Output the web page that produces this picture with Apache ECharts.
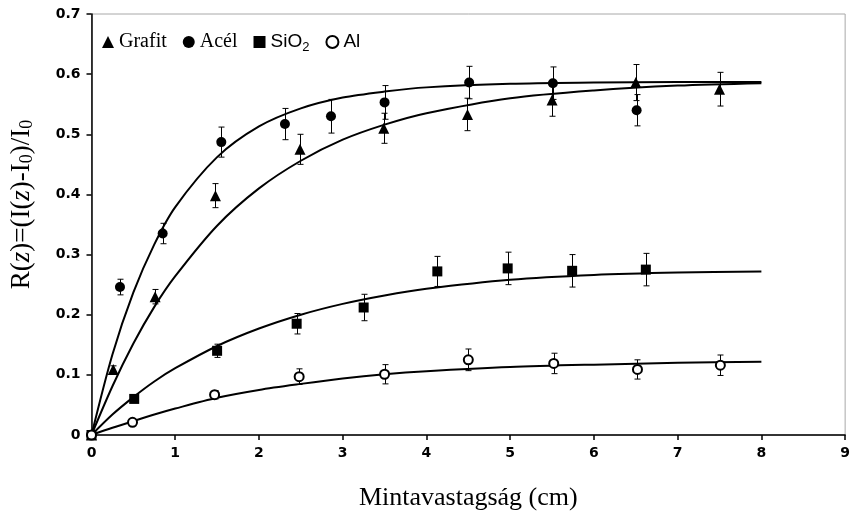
<!DOCTYPE html>
<html lang="hu">
<head>
<meta charset="UTF-8">
<title>R(z) – Mintavastagság</title>
<script src="https://cdn.jsdelivr.net/npm/echarts@6/dist/echarts.min.js"></script>
<style>
    html, body { margin: 0; width: 100%; height: 100%; overflow: hidden; background: #fff; }
    #main { width: 853px; height: 516px; }
</style>
</head>
<body>
<div id="main"></div>
<script>
    // measured points (x in cm) with error bar half-widths
    var grafitX = [0, 0.26, 0.76, 1.48, 2.49, 3.49, 4.49, 5.5, 6.5, 7.5];
    var grafitY = [0, 0.109, 0.23, 0.398, 0.475, 0.51, 0.533, 0.557, 0.586, 0.575];
    var grafitErr = [0, 0.006, 0.012, 0.02, 0.025, 0.025, 0.027, 0.027, 0.03, 0.028];

    var acelX = [0, 0.34, 0.85, 1.55, 2.31, 2.86, 3.5, 4.51, 5.51, 6.51];
    var acelY = [0, 0.246, 0.335, 0.487, 0.517, 0.53, 0.553, 0.586, 0.585, 0.54];
    var acelErr = [0, 0.013, 0.017, 0.025, 0.026, 0.028, 0.028, 0.027, 0.027, 0.026];

    var sio2X = [0, 0.51, 1.5, 2.45, 3.25, 4.13, 4.97, 5.74, 6.62];
    var sio2Y = [0, 0.06, 0.14, 0.185, 0.212, 0.272, 0.277, 0.273, 0.275];
    var sio2Err = [0, 0.004, 0.011, 0.017, 0.022, 0.025, 0.027, 0.027, 0.027];

    var alX = [0, 0.49, 1.47, 2.48, 3.5, 4.5, 5.52, 6.52, 7.51];
    var alY = [0, 0.021, 0.067, 0.097, 0.101, 0.125, 0.119, 0.109, 0.116];
    var alErr = [0, 0.003, 0.007, 0.013, 0.016, 0.018, 0.017, 0.016, 0.017];

    // fitted curves
    var fitX = [0, 0.25, 0.5, 0.75, 1, 1.5, 2, 2.5, 3, 3.5, 4, 5, 6, 7, 8];
    var grafitFit = [0, 0.081, 0.152, 0.213, 0.264, 0.348, 0.410, 0.456, 0.491, 0.516, 0.535, 0.560, 0.573, 0.581, 0.585];
    var acelFit = [0, 0.134, 0.237, 0.317, 0.379, 0.462, 0.513, 0.543, 0.561, 0.571, 0.578, 0.584, 0.586, 0.587, 0.587];
    var sio2Fit = [0, 0.034, 0.063, 0.089, 0.111, 0.148, 0.177, 0.200, 0.218, 0.232, 0.243, 0.258, 0.266, 0.270, 0.272];
    var alFit = [0, 0.012, 0.023, 0.034, 0.044, 0.062, 0.075, 0.085, 0.094, 0.101, 0.106, 0.113, 0.117, 0.120, 0.122];

    function pairs(xs, ys) {
        return xs.map(function (x, i) { return [x, ys[i]]; });
    }

    function fitLine(name, ys) {
        return {
            name: name, type: 'line', z: 2, silent: true,
            smooth: 0.3, showSymbol: false, symbol: 'none',
            lineStyle: { color: '#000', width: 2 },
            data: pairs(fitX, ys)
        };
    }

    function errorBars(name, xs, ys, errs) {
        var data = [];
        for (var i = 0; i < xs.length; i++) {
            if (errs[i] > 0) data.push([xs[i], ys[i] - errs[i], ys[i] + errs[i]]);
        }
        return {
            name: name, type: 'custom', z: 3, silent: true,
            encode: { x: 0, y: [1, 2] },
            data: data,
            renderItem: function (params, api) {
                var lo = api.coord([api.value(0), api.value(1)]);
                var hi = api.coord([api.value(0), api.value(2)]);
                var x = Math.round(lo[0]) + 0.5;
                var w = 3;
                var st = { stroke: '#000', lineWidth: 1, opacity: 1 };
                return {
                    type: 'group', children: [
                        { type: 'line', shape: { x1: x, y1: lo[1], x2: x, y2: hi[1] }, style: st },
                        { type: 'line', shape: { x1: x - w, y1: lo[1], x2: x + w, y2: lo[1] }, style: st },
                        { type: 'line', shape: { x1: x - w, y1: hi[1], x2: x + w, y2: hi[1] }, style: st }
                    ]
                };
            }
        };
    }

    function points(name, xs, ys, symbol, size) {
        var empty = symbol === 'emptyCircle';
        return {
            name: name, type: 'scatter', z: 4,
            symbol: symbol, symbolSize: size,
            itemStyle: { color: '#000', opacity: 1, borderWidth: empty ? 1 : 0 },
            data: pairs(xs, ys)
        };
    }

    var myChart = echarts.init(document.getElementById('main'));
    var option = {
        animation: false,
        backgroundColor: '#fff',
        grid: { left: 83, right: 4, top: 14, bottom: 73, show: true, borderColor: '#a8a8a8', borderWidth: 1 },
        legend: {
            data: ['Grafit', 'Acél', 'SiO2', 'Al'],
            left: 97, top: 27,
            itemWidth: 12, itemHeight: 12, itemGap: 16,
            selectedMode: false,
            formatter: function (name) {
                if (name === 'SiO2') return '{s|SiO}{sub|2}';
                if (name === 'Al') return '{s|Al}';
                return '{t|' + name + '}';
            },
            textStyle: {
                color: '#000',
                rich: {
                    t: { fontFamily: 'Liberation Serif', fontSize: 20, color: '#000', lineHeight: 24 },
                    s: { fontFamily: 'Liberation Sans', fontSize: 19, color: '#000', lineHeight: 24 },
                    sub: { fontFamily: 'Liberation Sans', fontSize: 13, color: '#000', lineHeight: 13, verticalAlign: 'bottom' }
                }
            }
        },
        xAxis: {
            type: 'value', min: 0, max: 9, interval: 1,
            name: 'Mintavastagság (cm)', nameLocation: 'middle', nameGap: 50,
            nameTextStyle: { fontFamily: 'Liberation Serif', fontSize: 26, color: '#000' },
            axisLine: { lineStyle: { color: '#000', width: 1.5 } },
            axisTick: { show: true, length: 5, lineStyle: { color: '#000', width: 1.5 } },
            axisLabel: { fontFamily: 'DejaVu Sans', fontWeight: 'bold', fontSize: 14, color: '#000', margin: 11 },
            splitLine: { show: false }
        },
        yAxis: {
            type: 'value', min: 0, max: 0.7, interval: 0.1,
            name: '{t|R(}{i|z}{t|)=(I(}{i|z}{t|)-I}{sub|0}{t|)/I}{sub|0}',
            nameLocation: 'middle', nameGap: 55, nameRotate: 90,
            nameTextStyle: {
                padding: [0, 0, 0, 40],
                rich: {
                    t: { fontFamily: 'Liberation Serif', fontSize: 27, color: '#000', lineHeight: 30 },
                    i: { fontFamily: 'Liberation Serif', fontStyle: 'italic', fontSize: 27, color: '#000', lineHeight: 30 },
                    sub: { fontFamily: 'Liberation Serif', fontSize: 18, color: '#000', lineHeight: 17, verticalAlign: 'bottom' }
                }
            },
            axisLine: { show: true, lineStyle: { color: '#000', width: 1.5 } },
            axisTick: { show: true, length: 5, lineStyle: { color: '#000', width: 1.5 } },
            axisLabel: { fontFamily: 'DejaVu Sans', fontWeight: 'bold', fontSize: 14, color: '#000', margin: 11 },
            splitLine: { show: false }
        },
        series: [
            fitLine('Grafit görbe', grafitFit),
            fitLine('Acél görbe', acelFit),
            fitLine('SiO2 görbe', sio2Fit),
            fitLine('Al görbe', alFit),
            errorBars('Grafit hiba', grafitX, grafitY, grafitErr),
            errorBars('Acél hiba', acelX, acelY, acelErr),
            errorBars('SiO2 hiba', sio2X, sio2Y, sio2Err),
            errorBars('Al hiba', alX, alY, alErr),
            points('Grafit', grafitX, grafitY, 'triangle', 11),
            points('Acél', acelX, acelY, 'circle', 10),
            points('SiO2', sio2X, sio2Y, 'rect', 10),
            points('Al', alX, alY, 'emptyCircle', 9)
        ]
    };
    myChart.setOption(option);
</script>
</body>
</html>
